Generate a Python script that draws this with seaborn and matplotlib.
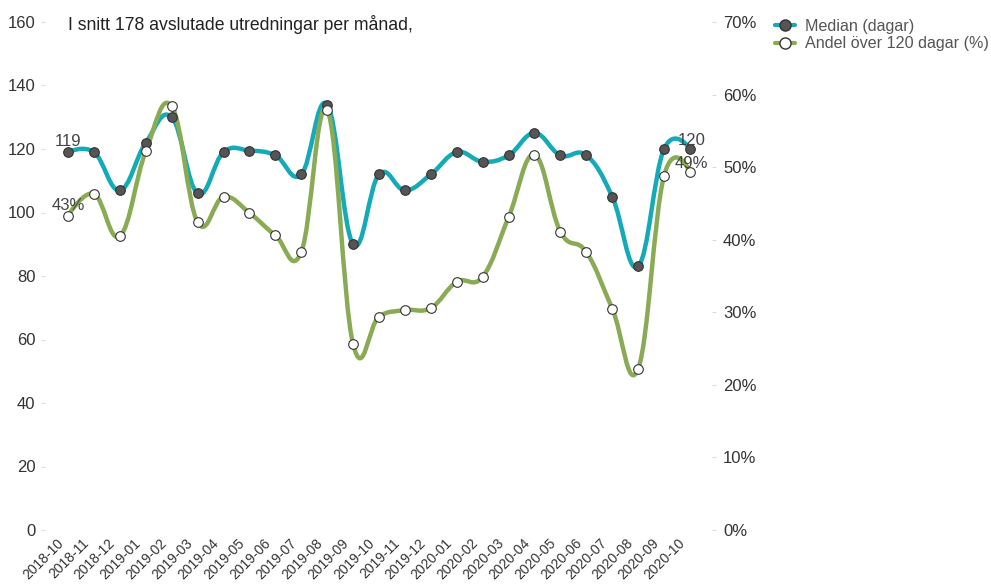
import numpy as np
import pandas as pd
import matplotlib
matplotlib.use("Agg")
import matplotlib.pyplot as plt
import matplotlib.transforms as mtransforms
from matplotlib.path import Path
from matplotlib.patches import PathPatch
from matplotlib.lines import Line2D
import seaborn as sns

months = ["2018-10", "2018-11", "2018-12", "2019-01", "2019-02", "2019-03", "2019-04",
          "2019-05", "2019-06", "2019-07", "2019-08", "2019-09", "2019-10", "2019-11",
          "2019-12", "2020-01", "2020-02", "2020-03", "2020-04", "2020-05", "2020-06",
          "2020-07", "2020-08", "2020-09", "2020-10"]
median_days = [119, 119, 107, 122, 130, 106, 119, 119.5, 118, 112, 134, 90, 112, 107,
               112, 119, 116, 118, 125, 118, 118, 105, 83, 120, 120]
share_over_120 = [43.3, 46.3, 40.5, 52.2, 58.4, 42.4, 45.9, 43.7, 40.6, 38.3, 57.9, 25.6,
                  29.4, 30.3, 30.6, 34.2, 34.9, 43.1, 51.7, 41.1, 38.3, 30.5, 22.2, 48.8, 49.3]
left_ticks = [0, 20, 40, 60, 80, 100, 120, 140, 160]
right_ticks = [0, 10, 20, 30, 40, 50, 60, 70]
title_text = "I snitt 178 avslutade utredningar per månad,"
legend_labels = ["Median (dagar)", "Andel över 120 dagar (%)"]

TEAL = "#14aab8"
GREEN = "#8aab55"
DARK = "#555555"
TXT = "#333333"

sns.set_theme(style="white")
plt.rcParams["font.family"] = ["Liberation Sans", "DejaVu Sans"]

df = pd.DataFrame({"x": np.arange(len(months)), "month": months,
                   "median": median_days, "share": share_over_120})

fig = plt.figure(figsize=(9.91, 5.84), dpi=100)
ax = fig.add_axes([45 / 991, 1 - 530 / 584, (712 - 45) / 991, (530 - 22) / 584])
ax2 = ax.twinx()
ax.set_xlim(-0.89, len(months) - 1 + 0.85)
ax.set_ylim(0, 160)
ax2.set_ylim(0, 70)


def spline_path(xs, ys):
    xs = np.asarray(xs, float)
    ys = np.asarray(ys, float)
    n = len(xs)
    verts = [(xs[0], ys[0])]
    codes = [Path.MOVETO]
    for i in range(n - 1):
        p0 = np.array([xs[i - 1], ys[i - 1]]) if i > 0 else np.array([xs[i], ys[i]])
        p1 = np.array([xs[i], ys[i]])
        p2 = np.array([xs[i + 1], ys[i + 1]])
        p3 = np.array([xs[i + 2], ys[i + 2]]) if i + 2 < n else p2
        c1 = p1 + 0.2 * (p2 - p0) if i > 0 else p1
        c2 = p2 - 0.2 * (p3 - p1) if i + 2 < n else p2
        verts += [tuple(c1), tuple(c2), tuple(p2)]
        codes += [Path.CURVE4] * 3
    return Path(verts, codes)


ax.add_patch(PathPatch(spline_path(df["x"], df["median"]), fill=False, edgecolor=TEAL,
                       lw=3.2, zorder=2, capstyle="round", joinstyle="round"))
ax.add_patch(PathPatch(spline_path(df["x"], df["share"]), fill=False, edgecolor=GREEN,
                       lw=3.2, zorder=3, capstyle="round", joinstyle="round",
                       transform=ax2.transData))

sns.scatterplot(data=df, x="x", y="median", ax=ax, s=48, color=DARK, edgecolor="#333333",
                linewidth=0.8, zorder=4, legend=False)
sns.scatterplot(data=df, x="x", y="share", ax=ax, s=48, color="white", edgecolor="#333333",
                linewidth=0.8, zorder=5, legend=False, transform=ax2.transData)

ax.set_xlim(-0.89, len(months) - 1 + 0.85)
ax.set_ylim(0, 160)
ax2.set_ylim(0, 70)

ax.set_xticks(df["x"])
ax.set_xticklabels(months, rotation=45, ha="right", rotation_mode="anchor", fontsize=10,
                   color=TXT)
ax.set_yticks(left_ticks)
ax.set_yticklabels([str(t) for t in left_ticks], fontsize=12, color=TXT)
ax2.set_yticks(right_ticks)
ax2.set_yticklabels([f"{t}%" for t in right_ticks], fontsize=12, color=TXT)
ax.set_xlabel("")
ax.set_ylabel("")
ax2.set_ylabel("")
ax.tick_params(axis="y", left=True, length=3, width=0.8, color="#dddddd", pad=4)
ax.tick_params(axis="x", bottom=False, pad=2)
ax2.tick_params(axis="y", right=True, length=3, width=0.8, color="#dddddd", pad=5)
for a in (ax, ax2):
    for s in a.spines.values():
        s.set_visible(False)
    a.grid(False)

shift = mtransforms.ScaledTranslation(-12 / 100, 5 / 100, fig.dpi_scale_trans)
for tick in ax.xaxis.get_major_ticks():
    tick.label1.set_transform(tick.label1.get_transform() + shift)

# data labels
ax.annotate(f"{median_days[0]:g}", (0, median_days[0]), xytext=(0, 2), textcoords="offset points",
            ha="center", va="bottom", fontsize=12, color="#444444", zorder=6)
ax.annotate(f"{share_over_120[0]:.0f}%", (0, share_over_120[0]), xytext=(0, 2),
            textcoords="offset points", xycoords=ax2.transData,
            ha="center", va="bottom", fontsize=12, color="#444444", zorder=6)
last = len(months) - 1
ax.annotate(f"{median_days[-1]:g}", (last, median_days[-1]), xytext=(1, 1),
            textcoords="offset points", ha="center", va="bottom", fontsize=12,
            color="#444444", zorder=6)
ax.annotate(f"{share_over_120[-1]:.0f}%", (last, share_over_120[-1]), xytext=(1, 1),
            textcoords="offset points", xycoords=ax2.transData,
            ha="center", va="bottom", fontsize=12, color="#444444", zorder=6)

fig.text(68 / 991, 1 - 24 / 584, title_text, fontsize=12.7, color="#222222",
         ha="left", va="center")

handles = [Line2D([0], [0], color=TEAL, lw=3, marker="o", markersize=8,
                  markerfacecolor=DARK, markeredgecolor="#333333"),
           Line2D([0], [0], color=GREEN, lw=3, marker="o", markersize=8,
                  markerfacecolor="white", markeredgecolor="#333333")]
fig.legend(handles, legend_labels, loc="upper left", bbox_to_anchor=(775 / 991, 1 - 19 / 584),
           frameon=False, fontsize=11.6, handlelength=1.25, handletextpad=0.6,
           labelspacing=0.15, borderaxespad=0, borderpad=0, labelcolor="#555555")

fig.savefig("out.png", dpi=100)
